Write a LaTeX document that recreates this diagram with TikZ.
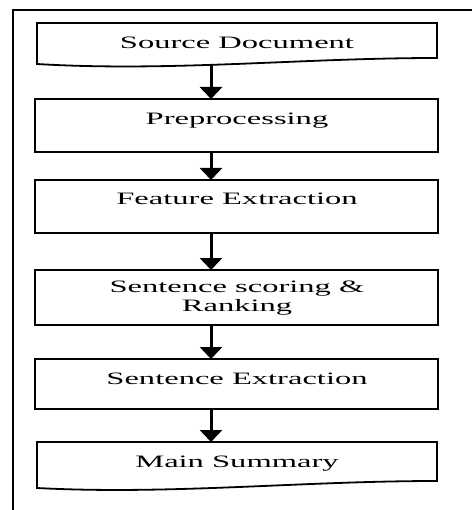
\documentclass[tikz,border=0pt]{standalone}
\usepackage{fontspec}
\setmainfont{Liberation Serif}
\usepackage{graphicx}
\usetikzlibrary{arrows.meta}
\newcommand{\wtxt}[1]{\scalebox{1.87}[1]{#1}}
\begin{document}
\begin{tikzpicture}[x=1pt,y=-1pt,
  frame/.style={line width=2pt},
  box/.style={draw, line width=1.8pt, minimum width=403pt, inner sep=0pt, outer sep=0pt},
  doc/.style={draw, line width=1.8pt, line join=miter},
  lbl/.style={anchor=base, inner sep=0pt, align=center, font=\fontsize{17.4}{19}\selectfont},
  arr/.style={line width=3pt, -{Triangle[width=22pt,length=12pt]}}]
\useasboundingbox (0,0) rectangle (471,510);
% open frame
\draw[frame] (13,511) -- (13,10) -- (472,10);
% document shapes
\draw[doc] (37,64) -- (37,23) -- (437,23) -- (437,58)
  .. controls (300,58) and (170,72) .. (37,64) -- cycle;
\draw[doc] (37,488) -- (37,442) -- (437,442) -- (437,481)
  .. controls (300,481) and (170,495) .. (37,488) -- cycle;
\coordinate (d1) at (211,65);
\coordinate (d6) at (211,442);
% process boxes
\node[box, minimum height=53pt] (b2) at (236.5,125.5) {};
\node[box, minimum height=53pt] (b3) at (236.5,206.5) {};
\node[box, minimum height=55pt] (b4) at (236.5,297.5) {};
\node[box, minimum height=50pt] (b5) at (236.5,384) {};
% labels
\node[lbl] (t1) at (237,49) {\wtxt{Source Document}};
\node[lbl] (t2) at (237,125) {\wtxt{Preprocessing}};
\node[lbl] (t3) at (237,205) {\wtxt{Feature Extraction}};
\node[lbl] (t4) at (237,311) {\wtxt{Sentence scoring \&}\\\wtxt{Ranking}};
\node[lbl] (t5) at (237,384) {\wtxt{Sentence Extraction}};
\node[lbl] (t6) at (237,467) {\wtxt{Main Summary}};
% arrows
\coordinate (ax) at (211,0);
\draw[arr] (d1) -- (d1 |- b2.north);
\draw[arr] (b2.south -| ax) -- (b3.north -| ax);
\draw[arr] (b3.south -| ax) -- (b4.north -| ax);
\draw[arr] (b4.south -| ax) -- (b5.north -| ax);
\draw[arr] (b5.south -| ax) -- (d6);
\end{tikzpicture}
\end{document}
